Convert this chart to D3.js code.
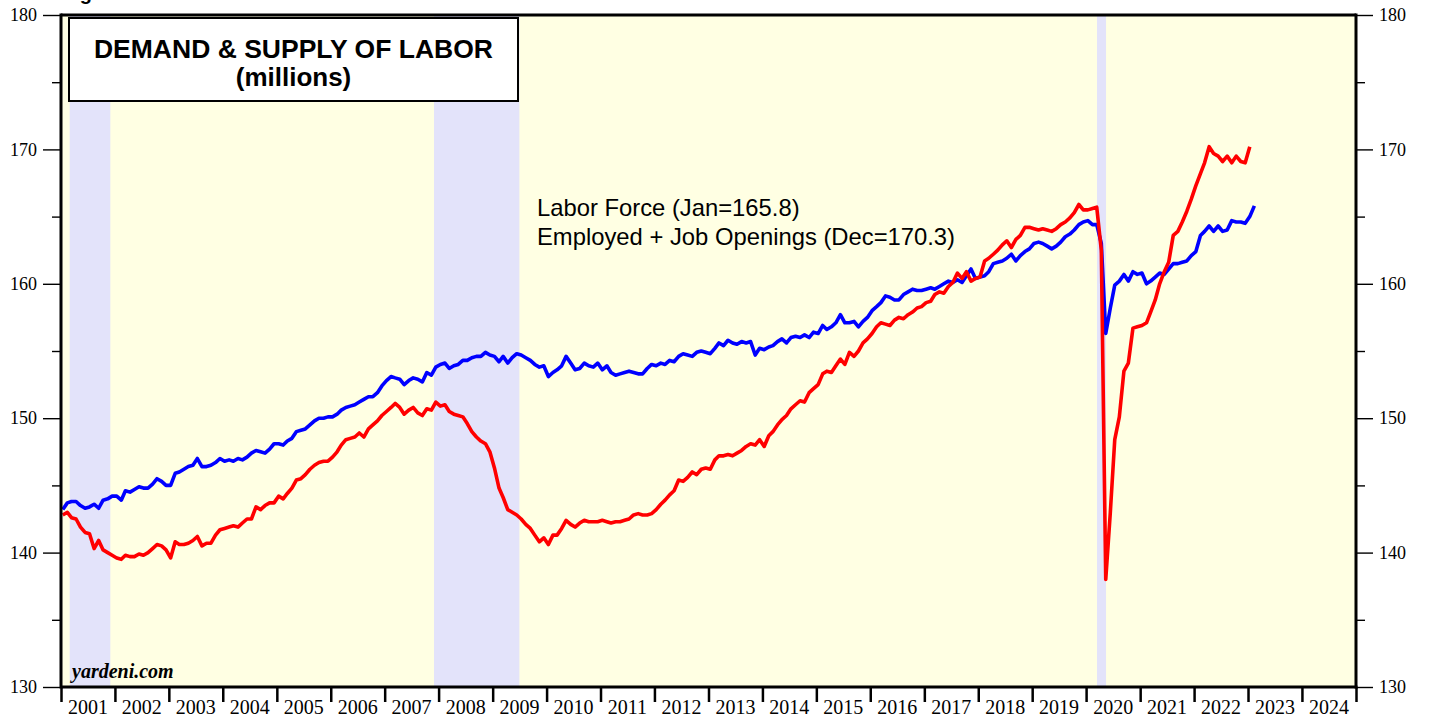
<!DOCTYPE html>
<html>
<head>
<meta charset="utf-8">
<script src="https://cdn.jsdelivr.net/npm/d3@7"></script>
<style>
  body { margin: 0; background: #fff; }
  svg { display: block; }
</style>
</head>
<body>
<svg id="chart" width="1429" height="721"></svg>
<script>
// monthly values, first value is Dec 2000
const startYear = 2000, startMonth = 11;

const laborForce = [
  143.2,
  143.7, 143.8, 143.8, 143.5, 143.3, 143.4, 143.6, 143.3, 143.9, 144.0, 144.2, 144.2,
  143.9, 144.6, 144.5, 144.7, 144.9, 144.8, 144.8, 145.1, 145.5, 145.3, 145.0, 145.0,
  145.9, 146.0, 146.2, 146.4, 146.5, 147.0, 146.4, 146.4, 146.5, 146.7, 147.0, 146.8,
  146.9, 146.8, 147.0, 146.9, 147.1, 147.4, 147.6, 147.5, 147.4, 147.7, 148.1, 148.1,
  148.0, 148.3, 148.5, 149.0, 149.1, 149.2, 149.5, 149.8, 150.0, 150.0, 150.1, 150.1,
  150.3, 150.6, 150.8, 150.9, 151.0, 151.2, 151.4, 151.6, 151.6, 151.9, 152.4, 152.8,
  153.1, 153.0, 152.9, 152.5, 152.8, 153.0, 152.9, 152.7, 153.4, 153.2, 153.8, 154.0,
  154.1, 153.7, 153.9, 154.0, 154.3, 154.3, 154.5, 154.6, 154.6, 154.9, 154.7, 154.6,
  154.2, 154.6, 154.1, 154.5, 154.8, 154.7, 154.5, 154.3, 154.0, 153.8, 153.9, 153.1,
  153.4, 153.6, 153.9, 154.6, 154.1, 153.6, 153.7, 154.1, 153.9, 153.8, 154.1, 153.6,
  153.9, 153.4, 153.2, 153.3, 153.4, 153.5, 153.4, 153.3, 153.3, 153.7, 154.0, 153.9,
  154.1, 154.0, 154.3, 154.2, 154.6, 154.8, 154.7, 154.6, 154.9, 155.0, 154.9, 154.8,
  155.2, 155.6, 155.4, 155.8, 155.6, 155.5, 155.7, 155.6, 155.7, 154.7, 155.2, 155.1,
  155.3, 155.4, 155.7, 155.9, 155.6, 156.0, 156.1, 156.0, 156.2, 156.0, 156.4, 156.3,
  156.9, 156.6, 156.8, 157.1, 157.7, 157.1, 157.1, 157.2, 156.8, 157.2, 157.5, 158.0,
  158.3, 158.6, 159.1, 159.0, 158.8, 158.8, 159.2, 159.4, 159.6, 159.5, 159.5, 159.6,
  159.7, 159.6, 159.8, 160.0, 160.2, 160.1, 160.3, 160.1, 160.6, 161.1, 160.4, 160.5,
  160.6, 160.9, 161.5, 161.6, 161.7, 161.9, 162.2, 161.7, 162.1, 162.4, 162.6, 163.0,
  163.1, 163.0, 162.8, 162.6, 162.8, 163.1, 163.5, 163.7, 164.0, 164.4, 164.6, 164.7,
  164.4, 164.4, 163.0, 156.3, 158.2, 159.9, 160.2, 160.7, 160.2, 160.9, 160.7, 160.8,
  160.0, 160.2, 160.5, 160.8, 160.7, 161.1, 161.5, 161.5, 161.6, 161.7, 162.1, 162.4,
  163.6, 163.9, 164.3, 163.9, 164.3, 163.9, 164.0, 164.7, 164.6, 164.6, 164.5, 165.0,
  165.8
];

const employedPlusOpenings = [
  142.8,
  143.0, 142.6, 142.5, 141.9, 141.5, 141.4, 140.3, 140.9, 140.2, 140.0, 139.8, 139.6,
  139.5, 139.8, 139.7, 139.7, 139.9, 139.8, 140.0, 140.3, 140.6, 140.5, 140.2, 139.6,
  140.8, 140.6, 140.6, 140.7, 140.9, 141.2, 140.5, 140.7, 140.7, 141.3, 141.7, 141.8,
  141.9, 142.0, 141.9, 142.2, 142.5, 142.5, 143.4, 143.2, 143.5, 143.7, 143.7, 144.2,
  144.0, 144.4, 144.8, 145.4, 145.5, 145.8, 146.2, 146.5, 146.7, 146.8, 146.8, 147.1,
  147.5, 148.0, 148.4, 148.5, 148.6, 148.9, 148.6, 149.2, 149.5, 149.8, 150.2, 150.5,
  150.8, 151.1, 150.8, 150.3, 150.6, 150.8, 150.4, 150.2, 150.7, 150.6, 151.2, 150.9,
  151.0, 150.5, 150.3, 150.2, 150.1, 149.6, 149.0, 148.6, 148.3, 148.1, 147.5, 146.3,
  144.8, 144.1, 143.2, 143.0, 142.8, 142.5, 142.1, 141.8, 141.3, 140.8, 141.1, 140.6,
  141.3, 141.3, 141.8, 142.4, 142.1, 141.9, 142.2, 142.4, 142.3, 142.3, 142.3, 142.4,
  142.3, 142.2, 142.3, 142.3, 142.4, 142.5, 142.8, 142.9, 142.8, 142.8, 142.9, 143.2,
  143.6, 143.9, 144.3, 144.6, 145.4, 145.3, 145.6, 146.0, 145.8, 146.2, 146.3, 146.2,
  146.9, 147.2, 147.2, 147.3, 147.2, 147.4, 147.6, 147.9, 148.1, 148.0, 148.4, 147.9,
  148.7, 149.0, 149.5, 149.9, 150.2, 150.7, 151.0, 151.3, 151.2, 151.9, 152.2, 152.5,
  153.3, 153.5, 153.4, 153.9, 154.4, 154.0, 154.9, 154.6, 155.0, 155.6, 155.9, 156.3,
  156.8, 157.1, 157.0, 156.9, 157.3, 157.5, 157.4, 157.7, 157.9, 158.2, 158.3, 158.6,
  158.7, 159.2, 159.4, 159.3, 159.8, 160.1, 160.8, 160.4, 160.9, 160.2, 160.4, 160.5,
  161.7, 161.9, 162.2, 162.5, 162.9, 163.2, 162.7, 163.3, 163.6, 164.2, 164.2, 164.1,
  164.0, 164.1, 164.0, 163.9, 164.1, 164.4, 164.6, 164.9, 165.3, 165.9, 165.5, 165.5,
  165.6, 165.7, 162.5, 138.0, 143.0, 148.4, 150.1, 153.5, 154.1, 156.7, 156.8, 156.9,
  157.1, 157.9, 158.8, 160.0, 160.9, 161.6, 163.6, 163.9, 164.6, 165.4, 166.3, 167.3,
  168.2, 169.0, 170.2, 169.7, 169.5, 169.1, 169.5, 169.0, 169.5, 169.1, 169.0, 170.2
];

const years = d3.range(2001, 2025);
const yMajor = [130, 140, 150, 160, 170, 180];
const yMinor = [135, 145, 155, 165, 175];
const recessions = [
  ["2001-03-01", "2001-12-01"],
  ["2007-12-01", "2009-07-01"],
  ["2020-03-15", "2020-05-15"]
];

const titleLines = ["DEMAND & SUPPLY OF LABOR", "(millions)"];
const legendLines = ["Labor Force (Jan=165.8)", "Employed + Job Openings (Dec=170.3)"];

const plotL = 61, plotR = 1356, plotT = 15, plotB = 687;
const svg = d3.select("#chart");

const x = d3.scaleTime()
  .domain([new Date(2001, 0, 1), new Date(2025, 0, 1)])
  .range([plotL, plotR]);
const y = d3.scaleLinear()
  .domain([130, 180])
  .range([plotB, plotT]);

// values are drawn a bit after month end, like the source chart
const toPoints = vals => vals.map((v, i) => ({ date: new Date(startYear, startMonth + i + 1, 13), v }));

// header line above the frame, only its descender shows
svg.append("text")
  .attr("x", 62).attr("y", 0)
  .attr("font-family", "Liberation Sans, Arial, sans-serif")
  .attr("font-weight", "bold").attr("font-size", 20)
  .text("Fig");

// background + recession bands
svg.append("rect")
  .attr("x", plotL).attr("y", plotT)
  .attr("width", plotR - plotL).attr("height", plotB - plotT)
  .attr("fill", "#ffffe3");

svg.append("g").selectAll("rect")
  .data(recessions)
  .enter().append("rect")
  .attr("x", d => x(new Date(d[0])))
  .attr("y", plotT)
  .attr("width", d => x(new Date(d[1])) - x(new Date(d[0])))
  .attr("height", plotB - plotT)
  .attr("fill", "#e3e3fa");

svg.append("clipPath").attr("id", "plot")
  .append("rect")
  .attr("x", plotL).attr("y", plotT)
  .attr("width", plotR - plotL).attr("height", plotB - plotT);

const line = d3.line()
  .x(d => x(d.date))
  .y(d => y(d.v));

const lines = svg.append("g").attr("clip-path", "url(#plot)");
lines.append("path")
  .datum(toPoints(laborForce))
  .attr("d", line)
  .attr("fill", "none").attr("stroke", "#0000ff")
  .attr("stroke-width", 3.6).attr("stroke-linejoin", "round");
lines.append("path")
  .datum(toPoints(employedPlusOpenings))
  .attr("d", line)
  .attr("fill", "none").attr("stroke", "#ff0000")
  .attr("stroke-width", 3.6).attr("stroke-linejoin", "round");

// y axes
const serif = "Liberation Serif, Times New Roman, serif";
function yAxis(axis, xpos, size, labels) {
  const g = svg.append("g")
    .attr("transform", "translate(" + xpos + ",0)")
    .call(axis.tickSize(size).tickPadding(labels ? 6 : 0)
      .tickFormat(labels ? d3.format("d") : ""));
  g.select(".domain").remove();
  g.selectAll("line").attr("stroke", "#000").attr("stroke-width", 1.4);
  g.selectAll("text").attr("font-family", serif).attr("font-size", 18).attr("fill", "#000");
  return g;
}
yAxis(d3.axisLeft(y).tickValues(yMajor), plotL, 18, true);
yAxis(d3.axisLeft(y).tickValues(yMinor), plotL, 9, false);
yAxis(d3.axisRight(y).tickValues(yMajor), plotR, 17, true);
yAxis(d3.axisRight(y).tickValues(yMinor), plotR, 9, false);

// x axis: ticks at year starts, labels in the middle of each year
const xg = svg.append("g")
  .attr("transform", "translate(0," + plotB + ")")
  .call(d3.axisBottom(x)
    .tickValues(d3.range(2001, 2026).map(yr => new Date(yr, 0, 1)))
    .tickSize(15).tickFormat(""));
xg.select(".domain").remove();
xg.selectAll("line").attr("stroke", "#000").attr("stroke-width", 2.5);

svg.append("g").selectAll("text")
  .data(years)
  .enter().append("text")
  .attr("x", d => x(new Date(d, 6, 2)))
  .attr("y", 714)
  .attr("text-anchor", "middle")
  .attr("font-family", serif).attr("font-size", 20)
  .text(d => d);

// frame
const frame = svg.append("g").attr("stroke", "#000").attr("stroke-width", 3);
frame.append("line").attr("x1", plotL).attr("x2", plotR).attr("y1", plotT).attr("y2", plotT);
frame.append("line").attr("x1", plotL).attr("x2", plotR + 1.5).attr("y1", plotB).attr("y2", plotB);
frame.append("line").attr("x1", plotL).attr("x2", plotL).attr("y1", plotT - 1.5).attr("y2", plotB + 1.5);
frame.append("line").attr("x1", plotR).attr("x2", plotR).attr("y1", plotT - 1.5).attr("y2", plotB + 1.5);

// title box
svg.append("rect")
  .attr("x", 69).attr("y", 18)
  .attr("width", 449).attr("height", 83)
  .attr("fill", "#fff").attr("stroke", "#000").attr("stroke-width", 2);
svg.append("g").selectAll("text")
  .data(titleLines)
  .enter().append("text")
  .attr("x", 293.5)
  .attr("y", (d, i) => 58 + i * 28)
  .attr("text-anchor", "middle")
  .attr("font-family", "Liberation Sans, Arial, sans-serif")
  .attr("font-weight", "bold")
  .attr("font-size", (d, i) => i === 0 ? 26.5 : 26)
  .text(d => d);

// legend text
svg.append("g").selectAll("text")
  .data(legendLines)
  .enter().append("text")
  .attr("x", 537)
  .attr("y", (d, i) => 216 + i * 29)
  .attr("font-family", "Liberation Sans, Arial, sans-serif")
  .attr("font-size", 23.8)
  .text(d => d);

svg.append("text")
  .attr("x", 72).attr("y", 678)
  .attr("font-family", serif)
  .attr("font-weight", "bold").attr("font-style", "italic")
  .attr("font-size", 20)
  .text("yardeni.com");
</script>
</body>
</html>
